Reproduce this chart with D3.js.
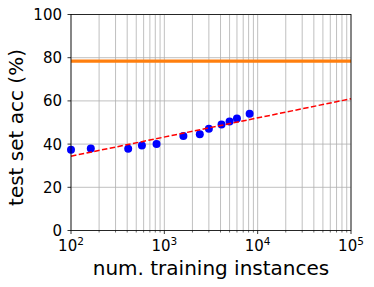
<!DOCTYPE html>
<html><head><meta charset="utf-8">
<script src="https://cdn.jsdelivr.net/npm/d3@7"></script>
<style>body{margin:0;background:#fff}svg{display:block}</style>
</head><body>
<svg id="c" width="374" height="287"></svg>
<script>
const xs = [100, 163, 410, 575, 825, 1600, 2400, 3000, 4100, 5000, 6000, 8200];
const accs = [37.4, 38.0, 37.9, 39.4, 40.1, 43.8, 44.6, 47.1, 49.1, 50.5, 51.9, 54.0];
const fitLine = [[100, 34.4], [100000, 61.0]];
const baseline = 78.4;
const yTicks = [0, 20, 40, 60, 80, 100];
const xTickExps = [2, 3, 4, 5];

const svg = d3.select("#c");
const L = 71, R = 351, T = 14.5, B = 230.5;
const x = d3.scaleLog().domain([100, 100000]).range([L, R]);
const y = d3.scaleLinear().domain([0, 100]).range([B, T]);
const font = "DejaVu Sans, sans-serif";

const minor = [];
for (let e = 2; e < 5; e++) for (let m = 2; m <= 9; m++) minor.push(m * Math.pow(10, e));
const majors = xTickExps.map(e => Math.pow(10, e));

const g = svg.append("g");
g.selectAll(".vg").data(minor.concat(majors)).join("line")
  .attr("x1", d => x(d)).attr("x2", d => x(d)).attr("y1", T).attr("y2", B)
  .attr("stroke", "#b0b0b0").attr("stroke-width", 0.8);
g.selectAll(".hg").data(yTicks).join("line")
  .attr("x1", L).attr("x2", R).attr("y1", d => y(d)).attr("y2", d => y(d))
  .attr("stroke", "#b0b0b0").attr("stroke-width", 0.8);

g.append("line").attr("x1", L).attr("x2", R).attr("y1", y(baseline)).attr("y2", y(baseline))
  .attr("stroke", "#ff7f0e").attr("stroke-width", 3.2);

g.selectAll(".pt").data(xs.map((d, i) => [d, accs[i]])).join("circle")
  .attr("cx", d => x(d[0])).attr("cy", d => y(d[1])).attr("r", 4)
  .attr("fill", "#0000ff");

g.append("path").attr("d", d3.line().x(d => x(d[0])).y(d => y(d[1]))(fitLine))
  .attr("fill", "none").attr("stroke", "#ff0000").attr("stroke-width", 1.5)
  .attr("stroke-dasharray", "5.5,2.4");

svg.append("rect").attr("x", L).attr("y", T).attr("width", R - L).attr("height", B - T)
  .attr("fill", "none").attr("stroke", "#000").attr("stroke-width", 0.8);

svg.selectAll(".xt").data(majors).join("line")
  .attr("x1", d => x(d)).attr("x2", d => x(d)).attr("y1", B).attr("y2", B + 3.5)
  .attr("stroke", "#000").attr("stroke-width", 0.8);
svg.selectAll(".xm").data(minor).join("line")
  .attr("x1", d => x(d)).attr("x2", d => x(d)).attr("y1", B).attr("y2", B + 2)
  .attr("stroke", "#000").attr("stroke-width", 0.6);
const xl = svg.selectAll(".xl").data(xTickExps).join("text")
  .attr("x", d => x(Math.pow(10, d))).attr("y", 251)
  .attr("text-anchor", "middle").attr("font-family", font).attr("font-size", 15).attr("fill", "#000");
xl.append("tspan").text("10");
xl.append("tspan").attr("dy", -6).attr("font-size", 10.5).text(d => d);

svg.selectAll(".yt").data(yTicks).join("line")
  .attr("x1", L - 3.5).attr("x2", L).attr("y1", d => y(d)).attr("y2", d => y(d))
  .attr("stroke", "#000").attr("stroke-width", 0.8);
svg.selectAll(".yl").data(yTicks).join("text")
  .attr("x", 62).attr("y", d => y(d) + 5.5)
  .attr("text-anchor", "end").attr("font-family", font).attr("font-size", 15).attr("fill", "#000")
  .text(d => d);

svg.append("text").attr("x", 211).attr("y", 275).attr("text-anchor", "middle")
  .attr("font-family", font).attr("font-size", 20).attr("fill", "#000").text("num. training instances");
svg.append("text").attr("transform", `translate(23,127.5) rotate(-90)`)
  .attr("text-anchor", "middle").attr("font-family", font).attr("font-size", 20).attr("fill", "#000")
  .text("test set acc (%)");
</script>
</body></html>
